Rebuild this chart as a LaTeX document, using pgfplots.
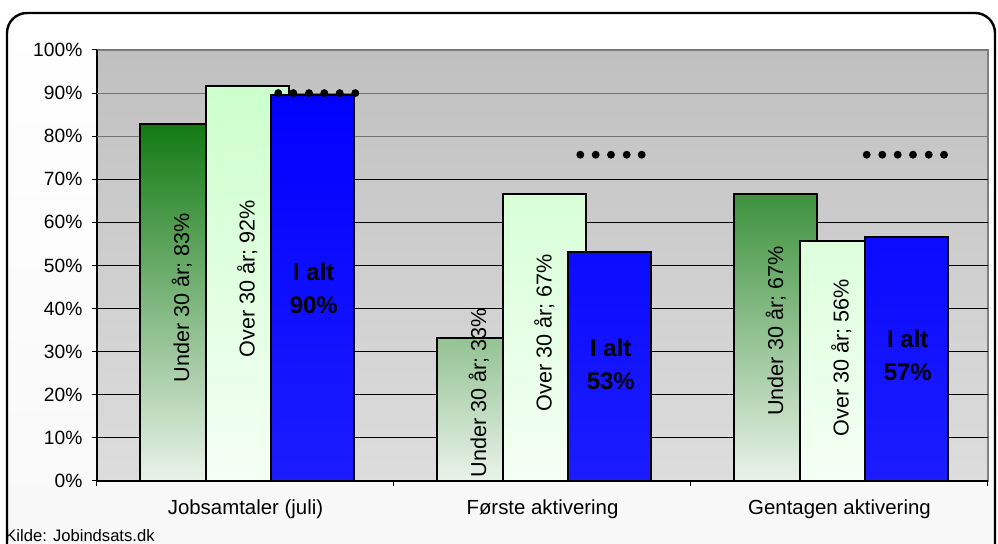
\documentclass[border=0pt]{standalone}
\usepackage{fontspec}
\setmainfont{Liberation Sans}
\usepackage{pgfplots}
\pgfplotsset{compat=1.18}

\definecolor{gtop}{HTML}{127A12}
\definecolor{gbot}{HTML}{EAF3EA}
\definecolor{ltop}{HTML}{CCFFCC}
\definecolor{lbot}{HTML}{F5FFF5}
\definecolor{btop}{HTML}{0000FF}
\definecolor{bbot}{HTML}{1C1CFF}
\definecolor{pltop}{HTML}{C0C0C0}
\definecolor{plbot}{HTML}{DDDDDD}

\begin{document}
\begin{tikzpicture}
\path[use as bounding box] (0,0) rectangle (499pt,272pt);
\clip (0,0) rectangle (499pt,272pt);
% outer chart frame
\shade[rounded corners=10pt, top color=white, middle color=black!26, bottom color=black!3]
  (3.5pt,-12pt) rectangle (497.5pt,265.5pt);
\draw[rounded corners=10pt, line width=1.2pt] (3.5pt,-12pt) rectangle (497.5pt,265.5pt);

\begin{axis}[
  at={(48.5pt,31.5pt)}, anchor=south west,
  scale only axis, width=445.5pt, height=215.5pt,
  xmin=-0.5, xmax=2.5, ymin=0, ymax=100,
  axis lines*=left,
  axis line style={-, black, line width=0.6pt},
  axis background/.style={shade, top color=pltop, bottom color=plbot, draw=black!50, line width=0.8pt},
  tick align=outside, major tick length=2.5pt,
  tick style={black, line width=0.5pt},
  /pgf/number format/assume math mode=true,
  ytick={0,10,...,70},
  yticklabel={\pgfmathprintnumber{\tick}\%},
  extra y ticks={80,90,100},
  extra y tick labels={80\%,90\%,100\%},
  extra y tick style={major grid style={black!55, line width=0.5pt}},
  yticklabel style={font=\fontsize{9.6}{11}\selectfont, xshift=-1.3pt},
  ymajorgrids,
  major grid style={black, line width=0.5pt},
  xtick={-0.5,0.5,1.5,2.5}, xticklabels={},
  extra x ticks={0,1,2},
  extra x tick labels={Jobsamtaler (juli),Første aktivering,Gentagen aktivering},
  extra x tick style={major tick length=0pt},
  xticklabel style={font=\fontsize{10.2}{12}\selectfont, yshift=-6pt},
  clip=false,
]
% under 30
\addplot[ybar, bar width=0.2795, bar shift=-0.2145, draw=black, line width=0.9pt,
  shade, top color=gtop, bottom color=gbot]
  coordinates {(0,82.8) (1,33.2) (2,66.6)};
% over 30
\addplot[ybar, bar width=0.2795, bar shift=0.006, draw=black, line width=0.9pt,
  shade, top color=ltop, bottom color=lbot]
  coordinates {(0,91.7) (1,66.6) (2,55.6)};
% i alt
\addplot[ybar, bar width=0.2795, bar shift=0.2265, draw=black, line width=0.9pt,
  shade, top color=btop, bottom color=bbot]
  coordinates {(0,89.6) (1,53.2) (2,56.7)};
% dotted reference levels
\addplot[only marks, mark=*, mark size=1.75pt, black]
  coordinates {(0.1104,90) (0.161,90) (0.2138,90) (0.2653,90) (0.3172,90) (0.3697,90)};
\addplot[only marks, mark=*, mark size=1.75pt, black]
  coordinates {(1.1273,75.7) (1.1791,75.7) (1.2306,75.7) (1.2835,75.7) (1.334,75.7)};
\addplot[only marks, mark=*, mark size=1.75pt, black]
  coordinates {(2.0916,75.7) (2.1441,75.7) (2.196,75.7) (2.2475,75.7) (2.3003,75.7) (2.3519,75.7)};

% labels inside bars
\tikzset{blab/.style={rotate=90, font=\fontsize{10.8}{12}\selectfont, inner sep=0pt},
         tlab/.style={align=center, font=\bfseries\fontsize{12}{16.5}\selectfont, inner sep=0pt}}
\node[blab] at (axis cs:-0.2145,42.5) {Under 30 år; 83\%};
\node[blab] at (axis cs:0.006,46.9) {Over 30 år; 92\%};
\node[tlab] at (axis cs:0.2300,44.7) {I alt\\90\%};
\node[blab] at (axis cs:0.7855,20.5) {Under 30 år; 33\%};
\node[blab] at (axis cs:1.006,34.4) {Over 30 år; 67\%};
\node[tlab] at (axis cs:1.2300,27) {I alt\\53\%};
\node[blab] at (axis cs:1.7855,34.8) {Under 30 år; 67\%};
\node[blab] at (axis cs:2.006,28.6) {Over 30 år; 56\%};
\node[tlab] at (axis cs:2.2300,29.1) {I alt\\57\%};
\end{axis}

\node[anchor=west, inner sep=0pt, font=\fontsize{8.3}{10}\selectfont] at (2.5pt,4pt) {Kilde: Jobindsats.dk};
\end{tikzpicture}
\end{document}
